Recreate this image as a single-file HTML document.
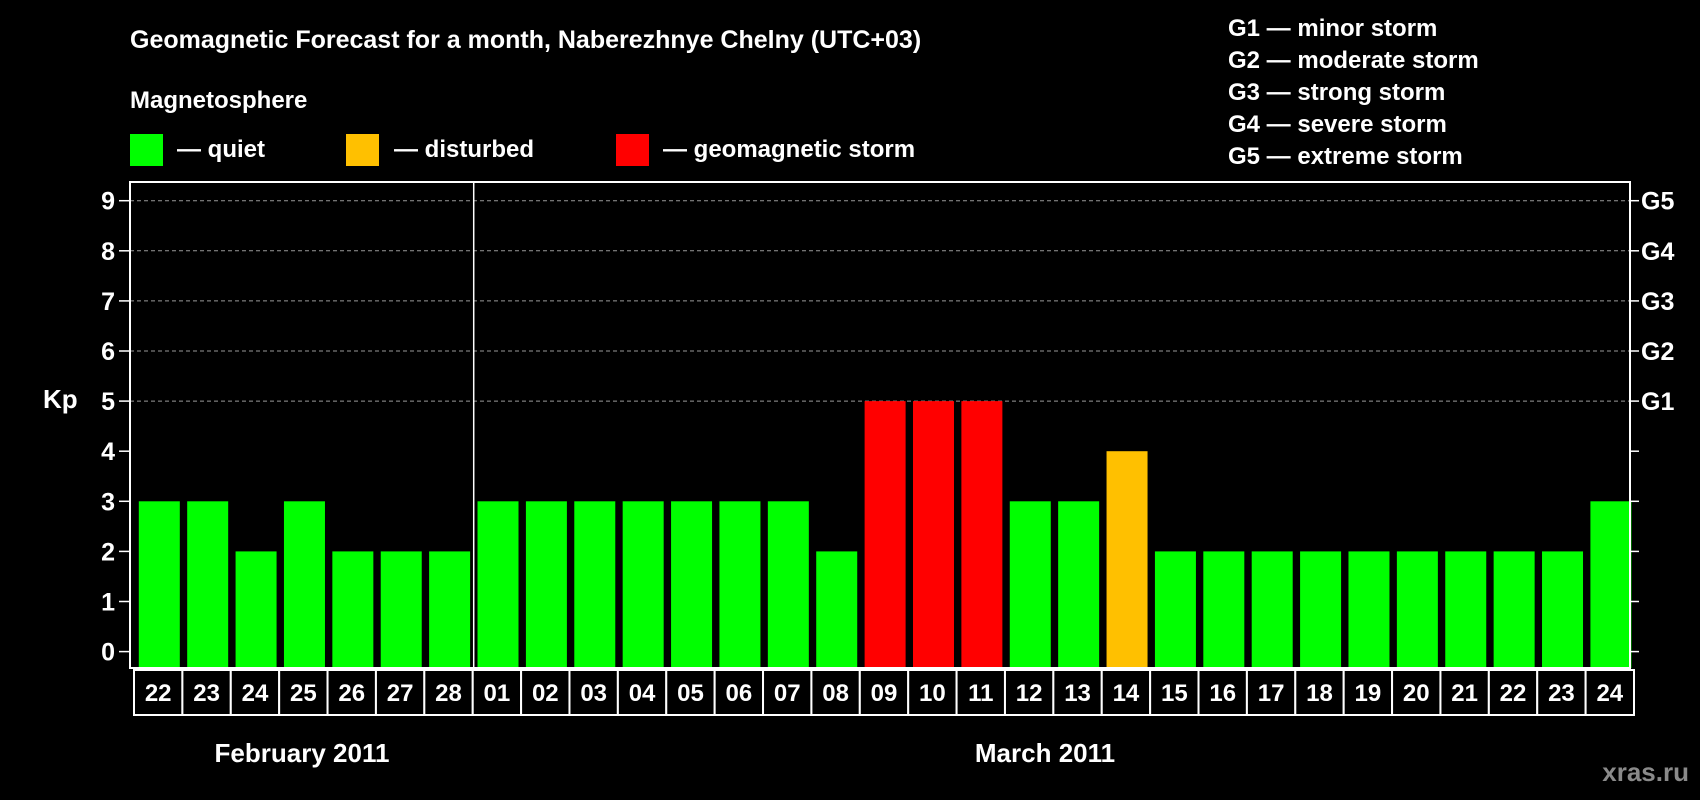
<!DOCTYPE html>
<html><head><meta charset="utf-8"><style>
html,body{margin:0;padding:0;background:#000;}
svg{display:block;font-family:"Liberation Sans",Arial,sans-serif;font-weight:bold;}
</style></head><body>
<svg id="chart" width="1700" height="800" viewBox="0 0 1700 800">
<rect x="0" y="0" width="1700" height="800" fill="#000"/>
<text x="130" y="48" fill="#fff" font-size="25">Geomagnetic Forecast for a month, Naberezhnye Chelny (UTC+03)</text>
<text x="130" y="108" fill="#fff" font-size="24">Magnetosphere</text>
<g><rect x="130" y="134" width="33" height="32" fill="#00ff00"/><text x="177" y="157" fill="#fff" font-size="24">— quiet</text></g>
<g><rect x="346" y="134" width="33" height="32" fill="#ffc000"/><text x="394" y="157" fill="#fff" font-size="24">— disturbed</text></g>
<g><rect x="616" y="134" width="33" height="32" fill="#ff0000"/><text x="663" y="157" fill="#fff" font-size="24">— geomagnetic storm</text></g>
<g fill="#fff" font-size="24">
<text x="1228" y="36">G1 — minor storm</text>
<text x="1228" y="68">G2 — moderate storm</text>
<text x="1228" y="100">G3 — strong storm</text>
<text x="1228" y="132">G4 — severe storm</text>
<text x="1228" y="164">G5 — extreme storm</text>
</g>
<text x="43" y="408" fill="#fff" font-size="26">Kp</text>
<g id="plot"></g>
<text x="302" y="762" fill="#fff" font-size="26" text-anchor="middle">February 2011</text>
<text x="1045" y="762" fill="#fff" font-size="26" text-anchor="middle">March 2011</text>
<text x="1689" y="781" fill="#8a8a8a" font-size="26" text-anchor="end">xras.ru</text>
</svg>
<script>
const days = ["22","23","24","25","26","27","28","01","02","03","04","05","06","07","08","09","10","11","12","13","14","15","16","17","18","19","20","21","22","23","24"];
const kpValues = [3,3,2,3,2,2,2,3,3,3,3,3,3,3,2,5,5,5,3,3,4,2,2,2,2,2,2,2,2,2,3];
const yTicks = [0,1,2,3,4,5,6,7,8,9];
const gLabels = ["G1","G2","G3","G4","G5"];
const gLevels = [5,6,7,8,9];
const monthSplitIndex = 7;

const NS = "http://www.w3.org/2000/svg";
const plot = document.getElementById("plot");
const L = 130, R = 1630, T = 182, B = 668;
const y = v => 651.6 - v * 50.1;
const pitch = (R - L) / days.length;
const xCell = i => L + 4 + i * pitch;
function mk(tag, attrs, parent) {
  const el = document.createElementNS(NS, tag);
  for (const k in attrs) el.setAttribute(k, attrs[k]);
  (parent || plot).appendChild(el);
  return el;
}
function color(v) { return v >= 5 ? "#ff0000" : (v >= 4 ? "#ffc000" : "#00ff00"); }

// grid lines for G levels
gLevels.forEach((lv, i) => {
  const ln = mk("line", {x1: L, x2: R, y1: y(lv), y2: y(lv), stroke: "#999", "stroke-width": 1, "stroke-dasharray": "4,3"});
  
  
  const t = mk("text", {x: 1641, y: y(lv) + 9, fill: "#fff", "font-size": 25});
  t.textContent = gLabels[i];
  
  
});
// bars
kpValues.forEach((v, i) => {
  const b = mk("rect", {x: xCell(i) + 4.8, y: y(v), width: 41, height: B - y(v), fill: color(v)});
  
  
});
// y ticks
yTicks.forEach(v => {
  const tl = mk("line", {x1: 119, x2: L, y1: y(v), y2: y(v), stroke: "#fff", "stroke-width": 1.5});
  
  
  const tr = mk("line", {x1: R, x2: 1639, y1: y(v), y2: y(v), stroke: "#fff", "stroke-width": 1.5});
  
  
  const t = mk("text", {x: 115, y: y(v) + 9, fill: "#fff", "font-size": 25, "text-anchor": "end"});
  t.textContent = v;
  
  
});
// frame
const fr = mk("rect", {x: L, y: T, width: R - L, height: B - T, fill: "none", stroke: "#fff", "stroke-width": 2});


const sepX = xCell(monthSplitIndex) + 1;
const sep = mk("line", {x1: sepX, x2: sepX, y1: T, y2: B, stroke: "#fff", "stroke-width": 1.5});


// day label boxes
days.forEach((d, i) => {
  const c = mk("rect", {x: xCell(i), y: 670, width: pitch, height: 45, fill: "#000", stroke: "#fff", "stroke-width": 2});
  
  
  const t = mk("text", {x: xCell(i) + pitch / 2, y: 701, fill: "#fff", "font-size": 24, "text-anchor": "middle"});
  t.textContent = d;
  
  
});
</script>
</body></html>
